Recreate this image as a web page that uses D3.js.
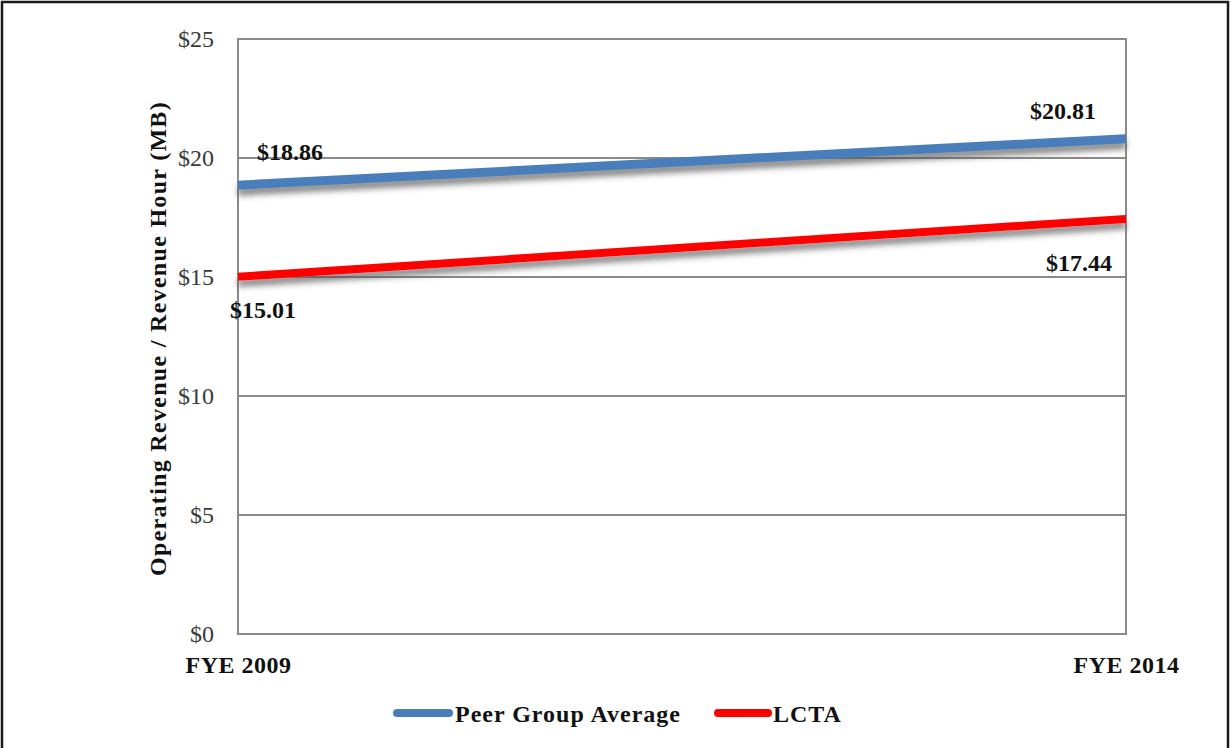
<!DOCTYPE html>
<html>
<head>
<meta charset="utf-8">
<script src="https://cdn.jsdelivr.net/npm/d3@7"></script>
<style>
  html, body { margin: 0; padding: 0; background: #fff; }
  svg { display: block; }
  text { font-family: "Liberation Serif", "Times New Roman", serif; }
</style>
</head>
<body>
<svg id="chart" width="1231" height="748"></svg>
<script>
// Fiscal years on the x axis
const years = ["FYE 2009", "FYE 2014"];
// Operating revenue per revenue hour ($)
const peerValues = [18.86, 20.81];
const lctaValues = [15.01, 17.44];
// Y axis ticks
const yTicks = [0, 5, 10, 15, 20, 25];
const seriesNames = ["Peer Group Average", "LCTA"];
const seriesColors = ["#4a7ebb", "#ff0000"];

const svg = d3.select("#chart");
const W = 1231, H = 748;
const plot = { left: 238, right: 1126, top: 39, bottom: 634 };

// Outer frame
svg.append("rect")
  .attr("x", 2).attr("y", 2)
  .attr("width", 1226).attr("height", H + 20)
  .attr("fill", "none").attr("stroke", "#1a1a1a").attr("stroke-width", 2.5);

const x = d3.scalePoint().domain(years).range([plot.left, plot.right]);
const y = d3.scaleLinear().domain([0, 25]).range([plot.bottom, plot.top]);

// Drop shadow used under the series lines
const defs = svg.append("defs");
const f = defs.append("filter").attr("id", "shadow")
  .attr("x", "-5%").attr("y", "-200%").attr("width", "110%").attr("height", "500%");
f.append("feOffset").attr("in", "SourceAlpha").attr("dx", 0).attr("dy", 6).attr("result", "off");
f.append("feGaussianBlur").attr("in", "off").attr("stdDeviation", 3.2).attr("result", "blur");
f.append("feComponentTransfer").attr("in", "blur").attr("result", "shade")
  .append("feFuncA").attr("type", "linear").attr("slope", 0.7);
f.append("feFlood").attr("flood-color", "#505050").attr("result", "col");
f.append("feComposite").attr("in", "col").attr("in2", "shade").attr("operator", "in").attr("result", "sh");
const fm = f.append("feMerge");
fm.append("feMergeNode").attr("in", "sh");
fm.append("feMergeNode").attr("in", "SourceGraphic");

// Horizontal gridlines
svg.append("g").selectAll("line")
  .data(yTicks)
  .join("line")
  .attr("x1", plot.left).attr("x2", plot.right)
  .attr("y1", d => y(d)).attr("y2", d => y(d))
  .attr("stroke", "#8a8a8a").attr("stroke-width", 2);

// Plot area frame
svg.append("rect")
  .attr("x", plot.left).attr("y", plot.top)
  .attr("width", plot.right - plot.left).attr("height", plot.bottom - plot.top)
  .attr("fill", "none").attr("stroke", "#8a8a8a").attr("stroke-width", 2);

// Y axis tick labels
const yAxis = d3.axisLeft(y).tickValues(yTicks).tickFormat(d => "$" + d).tickSize(0).tickPadding(24);
const yG = svg.append("g").attr("transform", `translate(${plot.left},0)`).call(yAxis);
yG.select(".domain").remove();
yG.selectAll("text")
  .attr("font-family", "Liberation Serif, serif")
  .attr("font-size", 24).attr("fill", "#3a3a3a");

// X axis labels
const xAxis = d3.axisBottom(x).tickSize(0).tickPadding(0);
const xG = svg.append("g").attr("transform", `translate(0,${plot.bottom})`).call(xAxis);
xG.select(".domain").remove();
xG.selectAll("text")
  .attr("dy", null).attr("y", 39)
  .attr("font-family", "Liberation Serif, serif")
  .attr("font-size", 24).attr("font-weight", "bold").attr("fill", "#111")
  .attr("letter-spacing", 0.5);

// Y axis title
svg.append("text")
  .attr("transform", `translate(166,${(plot.top + plot.bottom) / 2 + 2}) rotate(-90)`)
  .attr("text-anchor", "middle")
  .attr("font-size", 24).attr("font-weight", "bold").attr("fill", "#111")
  .attr("letter-spacing", 1.3)
  .text("Operating Revenue / Revenue Hour (MB)");

// Series lines
const series = [peerValues, lctaValues];
const widths = [9, 8];
const line = d3.line().x((d, i) => x(years[i])).y(d => y(d));
series.forEach((vals, k) => {
  svg.append("path")
    .datum(vals)
    .attr("d", line)
    .attr("fill", "none")
    .attr("stroke", seriesColors[k])
    .attr("stroke-width", widths[k])
    .attr("filter", "url(#shadow)");
});

// Data labels
const labelPos = [
  [{ dx: 52, dy: -25 }, { dx: -63, dy: -20 }],
  [{ dx: 25, dy: 41 }, { dx: -47, dy: 52 }]
];
series.forEach((vals, k) => {
  vals.forEach((v, i) => {
    svg.append("text")
      .attr("x", x(years[i]) + labelPos[k][i].dx)
      .attr("y", y(v) + labelPos[k][i].dy)
      .attr("text-anchor", "middle")
      .attr("font-size", 24).attr("font-weight", "bold").attr("fill", "#111")
      .text("$" + v.toFixed(2));
  });
});

// Legend
const legendItems = [
  { x1: 393, x2: 453, tx: 455 },
  { x1: 714, x2: 772, tx: 773 }
];
legendItems.forEach((it, k) => {
  svg.append("line")
    .attr("x1", it.x1 + 4).attr("x2", it.x2 - 4)
    .attr("y1", 713).attr("y2", 713)
    .attr("stroke", seriesColors[k]).attr("stroke-width", 8)
    .attr("stroke-linecap", "round");
  svg.append("text")
    .attr("x", it.tx).attr("y", 722)
    .attr("font-size", 24).attr("font-weight", "bold").attr("fill", "#111")
    .attr("letter-spacing", 1)
    .text(seriesNames[k]);
});
</script>
</body>
</html>
